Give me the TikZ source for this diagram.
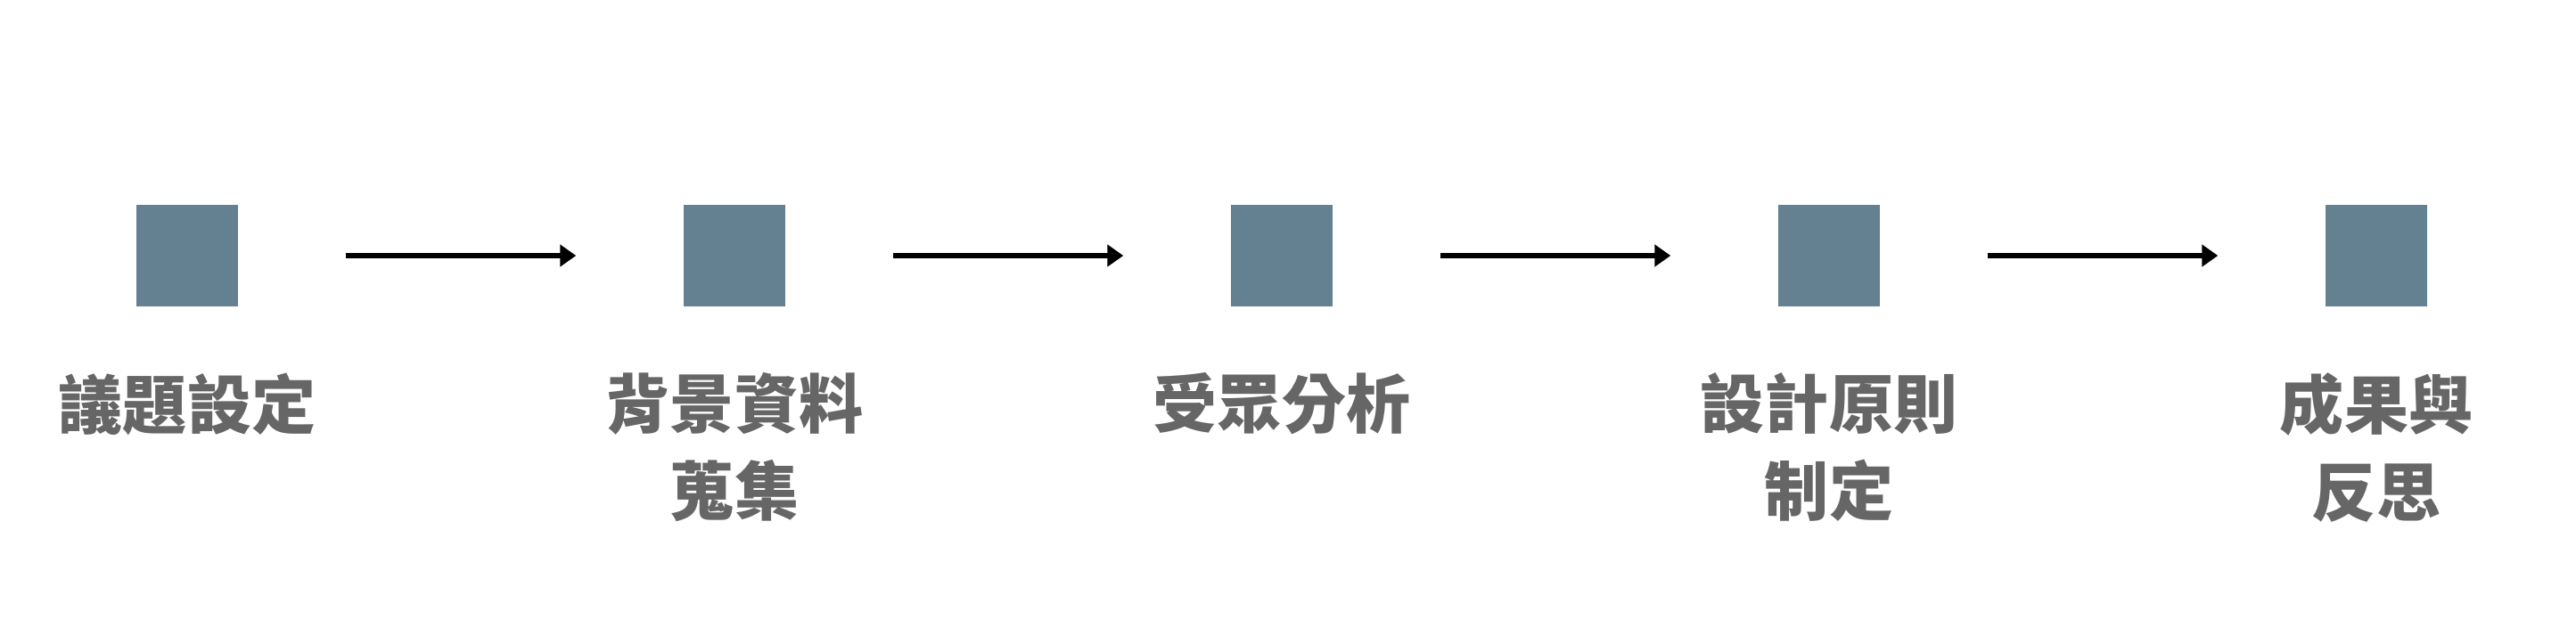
\documentclass[tikz,border=0pt]{standalone}
\usepackage{fontspec}
\newfontfamily\cjk{Noto Sans CJK TC}
\usetikzlibrary{arrows.meta}
\definecolor{boxblue}{RGB}{100,129,145}
\definecolor{labelgray}{RGB}{102,102,102}
\begin{document}
\begin{tikzpicture}
        \useasboundingbox [fill=white] (0,0) rectangle (28.90,7.13);
        \tikzset{stage/.style={fill=boxblue, minimum size=1.14cm, inner sep=0pt},
                 caption/.style={anchor=north, align=center, inner sep=0pt, text=labelgray,
                                 font=\cjk\bfseries\fontsize{20.5}{27.9}\selectfont},
                 flow/.style={-{Triangle[length=0.18cm,width=0.24cm]}, line width=0.06cm,
                              shorten <=1.2cm, shorten >=1.2cm}}
        \node [stage] (s1) at (2.10,4.26) {};
        \node [stage] (s2) at (8.24,4.26) {};
        \node [stage] (s3) at (14.38,4.26) {};
        \node [stage] (s4) at (20.52,4.26) {};
        \node [stage] (s5) at (26.66,4.26) {};
        \draw [flow] (s1) -- (s2);
        \draw [flow] (s2) -- (s3);
        \draw [flow] (s3) -- (s4);
        \draw [flow] (s4) -- (s5);
        \node [caption] (c1) at (2.10,2.95) {議題設定};
        \node [caption] (c2) at (8.24,2.95) {背景資料\\蒐集};
        \node [caption] (c3) at (14.38,2.95) {受眾分析};
        \node [caption] (c4) at (20.52,2.95) {設計原則\\制定};
        \node [caption] (c5) at (26.66,2.95) {成果與\\反思};
    \end{tikzpicture}
\end{document}
